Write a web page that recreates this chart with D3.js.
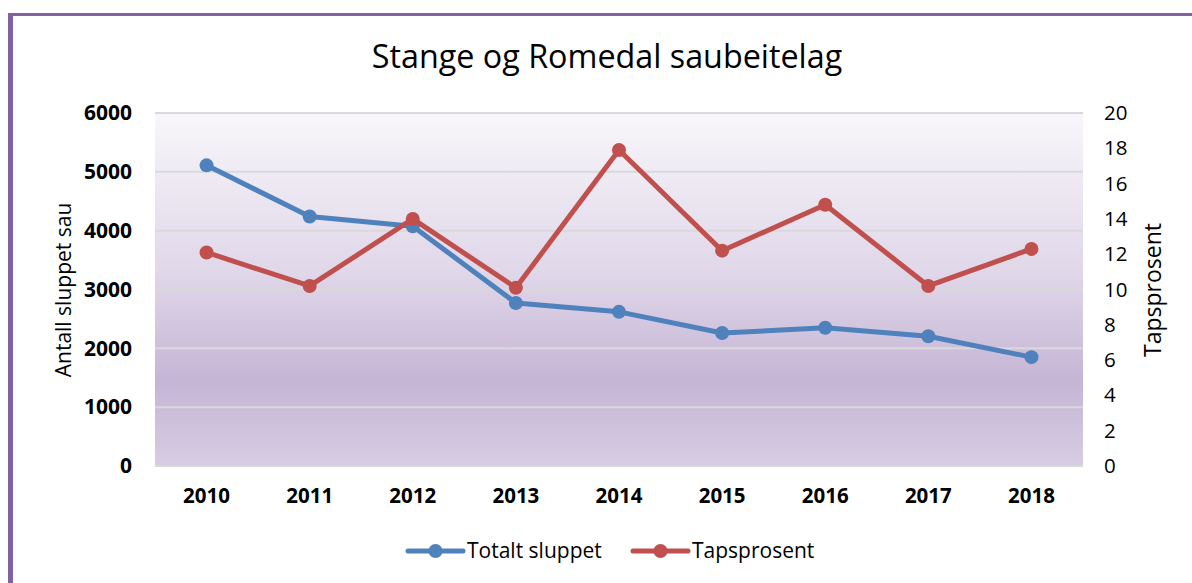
<!DOCTYPE html>
<html>
<head>
<meta charset="utf-8">
<script src="https://cdn.jsdelivr.net/npm/d3@7"></script>
<style>
  body { margin: 0; background: #fff; }
  svg { display: block; font-family: "Open Sans", sans-serif; }
</style>
</head>
<body>
<script>
// data
const years = ['2010', '2011', '2012', '2013', '2014', '2015', '2016', '2017', '2018'];
const totaltSluppet = [5110, 4240, 4075, 2770, 2620, 2260, 2350, 2205, 1850];
const tapsprosent = [12.1, 10.2, 14.0, 10.1, 17.9, 12.2, 14.8, 10.2, 12.3];
const leftTicks = [0, 1000, 2000, 3000, 4000, 5000, 6000];
const rightTicks = [0, 2, 4, 6, 8, 10, 12, 14, 16, 18, 20];

const W = 1192, H = 583;
const m = { left: 155, right: 1083, top: 113, bottom: 466 };
const blue = '#4f81bd', red = '#c0504d';
const font = '"Open Sans", sans-serif';

const svg = d3.select('body').append('svg')
  .attr('width', W)
  .attr('height', H);

// ramme (bare topp og venstre synlig)
svg.append('line').attr('x1', 8).attr('x2', W).attr('y1', 14.5).attr('y2', 14.5)
  .attr('stroke', '#8064a2').attr('stroke-width', 3);
svg.append('line').attr('x1', 10.5).attr('x2', 10.5).attr('y1', 13).attr('y2', H)
  .attr('stroke', '#8064a2').attr('stroke-width', 5);

// skalaer
const x = d3.scaleBand().domain(years).range([m.left, m.right]);
const yL = d3.scaleLinear().domain([0, 6000]).range([m.bottom, m.top]);
const yR = d3.scaleLinear().domain([0, 20]).range([m.bottom, m.top]);

// bakgrunn med gradient
const grad = svg.append('defs').append('linearGradient')
  .attr('id', 'bg').attr('x1', 0).attr('y1', 0).attr('x2', 0).attr('y2', 1);
grad.append('stop').attr('offset', '0%').attr('stop-color', '#f8f6fa');
grad.append('stop').attr('offset', '45%').attr('stop-color', '#e0d7e9');
grad.append('stop').attr('offset', '76%').attr('stop-color', '#c5b5d5');
grad.append('stop').attr('offset', '100%').attr('stop-color', '#d6cde3');

svg.append('rect')
  .attr('x', m.left).attr('y', m.top)
  .attr('width', m.right - m.left).attr('height', m.bottom - m.top)
  .attr('fill', 'url(#bg)');

// rutenett
svg.append('g').selectAll('line')
  .data(leftTicks)
  .enter().append('line')
  .attr('x1', m.left).attr('x2', m.right)
  .attr('y1', d => yL(d)).attr('y2', d => yL(d))
  .attr('stroke', '#d9d9d9').attr('stroke-width', 2);

// venstre akse
const axL = svg.append('g')
  .attr('transform', `translate(${m.left - 23},0)`)
  .call(d3.axisLeft(yL).tickValues(leftTicks).tickFormat(d3.format('d')).tickSize(0).tickPadding(0));
axL.select('.domain').remove();
axL.selectAll('text')
  .attr('font-family', font)
  .attr('font-size', 21).attr('font-weight', 'bold').attr('fill', '#000');

// høyre akse
const axR = svg.append('g')
  .attr('transform', `translate(${m.right + 21},0)`)
  .call(d3.axisRight(yR).tickValues(rightTicks).tickSize(0).tickPadding(0));
axR.select('.domain').remove();
axR.selectAll('text')
  .attr('font-family', font)
  .attr('font-size', 20.5).attr('fill', '#000');

// x-akse
const axX = svg.append('g')
  .attr('transform', `translate(0,${m.bottom + 22})`)
  .call(d3.axisBottom(x).tickSize(0).tickPadding(0));
axX.select('.domain').remove();
axX.selectAll('text')
  .attr('font-family', font)
  .attr('font-size', 20.5).attr('font-weight', 'bold').attr('fill', '#000');

// titler
svg.append('text')
  .attr('x', 607).attr('y', 68)
  .attr('text-anchor', 'middle')
  .attr('font-size', 32.3)
  .text('Stange og Romedal saubeitelag');

svg.append('text')
  .attr('transform', 'translate(71,290) rotate(-90)')
  .attr('text-anchor', 'middle')
  .attr('font-size', 21)
  .text('Antall sluppet sau');

svg.append('text')
  .attr('transform', 'translate(1161,290) rotate(-90)')
  .attr('text-anchor', 'middle')
  .attr('font-size', 23)
  .text('Tapsprosent');

// linjer
const cx = d => x(d) + x.bandwidth() / 2;
const series = [
  { name: 'Totalt sluppet', values: totaltSluppet, y: yL, color: blue },
  { name: 'Tapsprosent', values: tapsprosent, y: yR, color: red }
];

series.forEach(function(s) {
  const line = d3.line()
    .x((d, i) => cx(years[i]))
    .y(d => s.y(d));
  svg.append('path')
    .datum(s.values)
    .attr('d', line)
    .attr('fill', 'none')
    .attr('stroke', s.color)
    .attr('stroke-width', 5)
    .attr('stroke-linejoin', 'round');
  svg.append('g').selectAll('circle')
    .data(s.values)
    .enter().append('circle')
    .attr('cx', (d, i) => cx(years[i]))
    .attr('cy', d => s.y(d))
    .attr('r', 7)
    .attr('fill', s.color);
});

// tegnforklaring
const legX = [408, 633];
const leg = svg.append('g').selectAll('g')
  .data(series)
  .enter().append('g')
  .attr('transform', (d, i) => `translate(${legX[i]},551)`);
leg.append('line')
  .attr('x1', 0).attr('x2', 55)
  .attr('stroke', d => d.color).attr('stroke-width', 5)
  .attr('stroke-linecap', 'round');
leg.append('circle')
  .attr('cx', 27.5).attr('r', 7)
  .attr('fill', d => d.color);
leg.append('text')
  .attr('x', 59).attr('y', 7)
  .attr('font-size', 21)
  .text(d => d.name);
</script>
</body>
</html>
